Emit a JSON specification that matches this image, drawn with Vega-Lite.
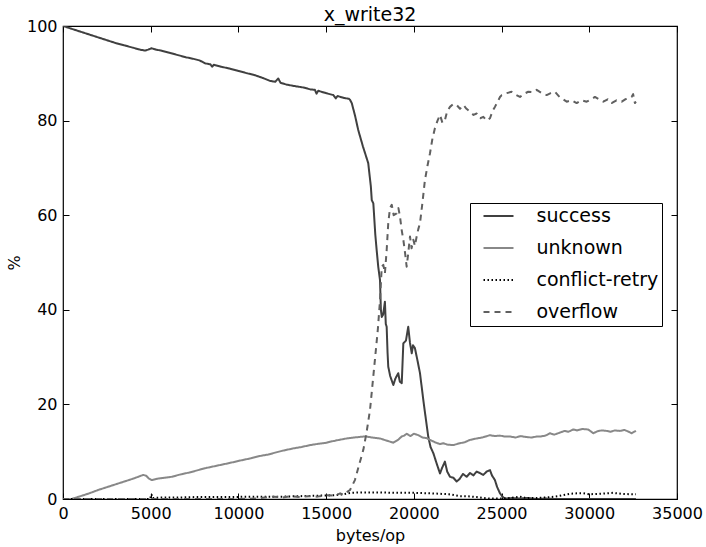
{
  "$schema": "https://vega.github.io/schema/vega-lite/v6.json",
  "width": 614,
  "height": 473,
  "autosize": {"type": "none"},
  "padding": {"left": 63, "top": 26, "right": 29, "bottom": 48},
  "background": "white",
  "title": {"text": "x_write32", "fontSize": 19, "font": "DejaVu Sans", "fontWeight": "normal", "color": "black", "offset": -7},
  "config": {
    "view": {"stroke": "black", "strokeWidth": 1.2},
    "font": "DejaVu Sans",
    "axis": {"domain": false, "grid": false, "tickColor": "black", "tickSize": -6, "tickWidth": 1, "labelFont": "DejaVu Sans", "labelFontSize": 16, "labelColor": "black", "titleFont": "DejaVu Sans", "titleFontSize": 16, "titleFontWeight": "normal", "titleColor": "black"}
  },
  "datasets": {
    "pts": [
      {"bytes": 0, "series": "success", "pct": 100},
      {"bytes": 500, "series": "success", "pct": 99.4},
      {"bytes": 1000, "series": "success", "pct": 98.8},
      {"bytes": 1500, "series": "success", "pct": 98.2},
      {"bytes": 2000, "series": "success", "pct": 97.6},
      {"bytes": 2500, "series": "success", "pct": 97.0},
      {"bytes": 3000, "series": "success", "pct": 96.4},
      {"bytes": 3500, "series": "success", "pct": 95.9},
      {"bytes": 4000, "series": "success", "pct": 95.4},
      {"bytes": 4400, "series": "success", "pct": 95.0},
      {"bytes": 4670, "series": "success", "pct": 94.8},
      {"bytes": 4850, "series": "success", "pct": 95.0},
      {"bytes": 5050, "series": "success", "pct": 95.3},
      {"bytes": 5300, "series": "success", "pct": 95.0},
      {"bytes": 5600, "series": "success", "pct": 94.8},
      {"bytes": 6000, "series": "success", "pct": 94.4},
      {"bytes": 6500, "series": "success", "pct": 93.9},
      {"bytes": 7000, "series": "success", "pct": 93.4},
      {"bytes": 7500, "series": "success", "pct": 93.0},
      {"bytes": 7800, "series": "success", "pct": 92.7},
      {"bytes": 8100, "series": "success", "pct": 92.1},
      {"bytes": 8400, "series": "success", "pct": 91.9},
      {"bytes": 8500, "series": "success", "pct": 91.4},
      {"bytes": 8600, "series": "success", "pct": 91.8},
      {"bytes": 9000, "series": "success", "pct": 91.4},
      {"bytes": 9500, "series": "success", "pct": 91.0},
      {"bytes": 10000, "series": "success", "pct": 90.5},
      {"bytes": 10500, "series": "success", "pct": 90.0},
      {"bytes": 10940, "series": "success", "pct": 89.6},
      {"bytes": 11400, "series": "success", "pct": 89.0},
      {"bytes": 11800, "series": "success", "pct": 88.4},
      {"bytes": 12100, "series": "success", "pct": 88.2},
      {"bytes": 12270, "series": "success", "pct": 88.9},
      {"bytes": 12400, "series": "success", "pct": 88.0},
      {"bytes": 12750, "series": "success", "pct": 87.6},
      {"bytes": 13200, "series": "success", "pct": 87.3},
      {"bytes": 13700, "series": "success", "pct": 87.0},
      {"bytes": 14100, "series": "success", "pct": 86.6},
      {"bytes": 14360, "series": "success", "pct": 86.5},
      {"bytes": 14450, "series": "success", "pct": 85.7},
      {"bytes": 14550, "series": "success", "pct": 86.3},
      {"bytes": 15000, "series": "success", "pct": 85.8},
      {"bytes": 15410, "series": "success", "pct": 85.4},
      {"bytes": 15550, "series": "success", "pct": 84.7},
      {"bytes": 15650, "series": "success", "pct": 85.2},
      {"bytes": 16000, "series": "success", "pct": 84.8},
      {"bytes": 16300, "series": "success", "pct": 84.6},
      {"bytes": 16360, "series": "success", "pct": 84.4},
      {"bytes": 16460, "series": "success", "pct": 83.7},
      {"bytes": 16650, "series": "success", "pct": 81.0},
      {"bytes": 16830, "series": "success", "pct": 78.0},
      {"bytes": 17100, "series": "success", "pct": 74.5},
      {"bytes": 17400, "series": "success", "pct": 71.0},
      {"bytes": 17550, "series": "success", "pct": 66.0},
      {"bytes": 17600, "series": "success", "pct": 63.2},
      {"bytes": 17690, "series": "success", "pct": 62.5},
      {"bytes": 17800, "series": "success", "pct": 56.0},
      {"bytes": 17880, "series": "success", "pct": 52.6},
      {"bytes": 17970, "series": "success", "pct": 49.1},
      {"bytes": 18070, "series": "success", "pct": 46.3},
      {"bytes": 18120, "series": "success", "pct": 40.0},
      {"bytes": 18170, "series": "success", "pct": 38.5},
      {"bytes": 18250, "series": "success", "pct": 39.0},
      {"bytes": 18350, "series": "success", "pct": 41.7},
      {"bytes": 18400, "series": "success", "pct": 37.0},
      {"bytes": 18450, "series": "success", "pct": 36.4},
      {"bytes": 18500, "series": "success", "pct": 31.0},
      {"bytes": 18540, "series": "success", "pct": 28.0},
      {"bytes": 18650, "series": "success", "pct": 26.0},
      {"bytes": 18830, "series": "success", "pct": 24.1},
      {"bytes": 18950, "series": "success", "pct": 25.5},
      {"bytes": 19110, "series": "success", "pct": 26.6},
      {"bytes": 19200, "series": "success", "pct": 24.8},
      {"bytes": 19310, "series": "success", "pct": 24.5},
      {"bytes": 19400, "series": "success", "pct": 32.9},
      {"bytes": 19550, "series": "success", "pct": 33.5},
      {"bytes": 19680, "series": "success", "pct": 36.4},
      {"bytes": 19780, "series": "success", "pct": 33.0},
      {"bytes": 19880, "series": "success", "pct": 30.8},
      {"bytes": 19950, "series": "success", "pct": 32.5},
      {"bytes": 20060, "series": "success", "pct": 31.9},
      {"bytes": 20200, "series": "success", "pct": 29.4},
      {"bytes": 20350, "series": "success", "pct": 26.6},
      {"bytes": 20540, "series": "success", "pct": 20.9},
      {"bytes": 20680, "series": "success", "pct": 17.0},
      {"bytes": 20820, "series": "success", "pct": 13.2},
      {"bytes": 20950, "series": "success", "pct": 11.0},
      {"bytes": 21110, "series": "success", "pct": 9.7},
      {"bytes": 21300, "series": "success", "pct": 7.5},
      {"bytes": 21490, "series": "success", "pct": 5.4},
      {"bytes": 21600, "series": "success", "pct": 6.5},
      {"bytes": 21770, "series": "success", "pct": 7.9},
      {"bytes": 21900, "series": "success", "pct": 5.8},
      {"bytes": 22060, "series": "success", "pct": 4.7},
      {"bytes": 22250, "series": "success", "pct": 4.5},
      {"bytes": 22440, "series": "success", "pct": 3.7},
      {"bytes": 22600, "series": "success", "pct": 4.2},
      {"bytes": 22800, "series": "success", "pct": 5.3},
      {"bytes": 23010, "series": "success", "pct": 4.7},
      {"bytes": 23200, "series": "success", "pct": 5.5},
      {"bytes": 23400, "series": "success", "pct": 5.0},
      {"bytes": 23580, "series": "success", "pct": 5.8},
      {"bytes": 23750, "series": "success", "pct": 5.5},
      {"bytes": 23960, "series": "success", "pct": 5.1},
      {"bytes": 24150, "series": "success", "pct": 5.8},
      {"bytes": 24340, "series": "success", "pct": 6.1},
      {"bytes": 24450, "series": "success", "pct": 5.0},
      {"bytes": 24620, "series": "success", "pct": 4.0},
      {"bytes": 24750, "series": "success", "pct": 2.5},
      {"bytes": 24910, "series": "success", "pct": 1.2},
      {"bytes": 25050, "series": "success", "pct": 0.5},
      {"bytes": 25190, "series": "success", "pct": 0.1},
      {"bytes": 25600, "series": "success", "pct": 0.2},
      {"bytes": 26000, "series": "success", "pct": 0.1},
      {"bytes": 26500, "series": "success", "pct": 0.2},
      {"bytes": 27000, "series": "success", "pct": 0.0},
      {"bytes": 27500, "series": "success", "pct": 0.1},
      {"bytes": 28000, "series": "success", "pct": 0.0},
      {"bytes": 29000, "series": "success", "pct": 0.0},
      {"bytes": 30000, "series": "success", "pct": 0.0},
      {"bytes": 31000, "series": "success", "pct": 0.0},
      {"bytes": 32000, "series": "success", "pct": 0.0},
      {"bytes": 32660, "series": "success", "pct": 0.0},

      {"bytes": 0, "series": "unknown", "pct": 0},
      {"bytes": 490, "series": "unknown", "pct": 0},
      {"bytes": 1000, "series": "unknown", "pct": 0.6},
      {"bytes": 1500, "series": "unknown", "pct": 1.2},
      {"bytes": 2000, "series": "unknown", "pct": 1.9},
      {"bytes": 2500, "series": "unknown", "pct": 2.5},
      {"bytes": 3000, "series": "unknown", "pct": 3.1},
      {"bytes": 3500, "series": "unknown", "pct": 3.7},
      {"bytes": 4000, "series": "unknown", "pct": 4.3},
      {"bytes": 4580, "series": "unknown", "pct": 5.1},
      {"bytes": 4750, "series": "unknown", "pct": 4.9},
      {"bytes": 4900, "series": "unknown", "pct": 4.3},
      {"bytes": 5050, "series": "unknown", "pct": 4.0},
      {"bytes": 5400, "series": "unknown", "pct": 4.3},
      {"bytes": 5800, "series": "unknown", "pct": 4.5},
      {"bytes": 6200, "series": "unknown", "pct": 4.7},
      {"bytes": 6700, "series": "unknown", "pct": 5.2},
      {"bytes": 7200, "series": "unknown", "pct": 5.6},
      {"bytes": 7600, "series": "unknown", "pct": 6.0},
      {"bytes": 8090, "series": "unknown", "pct": 6.5},
      {"bytes": 8600, "series": "unknown", "pct": 6.9},
      {"bytes": 9100, "series": "unknown", "pct": 7.3},
      {"bytes": 9600, "series": "unknown", "pct": 7.7},
      {"bytes": 10190, "series": "unknown", "pct": 8.2},
      {"bytes": 10700, "series": "unknown", "pct": 8.6},
      {"bytes": 11230, "series": "unknown", "pct": 9.1},
      {"bytes": 11700, "series": "unknown", "pct": 9.4},
      {"bytes": 11990, "series": "unknown", "pct": 9.7},
      {"bytes": 12500, "series": "unknown", "pct": 10.2},
      {"bytes": 13130, "series": "unknown", "pct": 10.7},
      {"bytes": 13600, "series": "unknown", "pct": 11.0},
      {"bytes": 14100, "series": "unknown", "pct": 11.4},
      {"bytes": 14600, "series": "unknown", "pct": 11.7},
      {"bytes": 15030, "series": "unknown", "pct": 11.9},
      {"bytes": 15220, "series": "unknown", "pct": 12.1},
      {"bytes": 15600, "series": "unknown", "pct": 12.4},
      {"bytes": 16170, "series": "unknown", "pct": 12.8},
      {"bytes": 16600, "series": "unknown", "pct": 13.0},
      {"bytes": 17120, "series": "unknown", "pct": 13.2},
      {"bytes": 17310, "series": "unknown", "pct": 13.2},
      {"bytes": 17600, "series": "unknown", "pct": 13.0},
      {"bytes": 18070, "series": "unknown", "pct": 12.8},
      {"bytes": 18400, "series": "unknown", "pct": 12.4},
      {"bytes": 18830, "series": "unknown", "pct": 11.9},
      {"bytes": 19100, "series": "unknown", "pct": 12.5},
      {"bytes": 19300, "series": "unknown", "pct": 13.2},
      {"bytes": 19450, "series": "unknown", "pct": 13.4},
      {"bytes": 19590, "series": "unknown", "pct": 13.8},
      {"bytes": 19800, "series": "unknown", "pct": 13.3},
      {"bytes": 20000, "series": "unknown", "pct": 13.8},
      {"bytes": 20250, "series": "unknown", "pct": 13.5},
      {"bytes": 20500, "series": "unknown", "pct": 13.0},
      {"bytes": 20700, "series": "unknown", "pct": 12.9},
      {"bytes": 20920, "series": "unknown", "pct": 12.5},
      {"bytes": 21200, "series": "unknown", "pct": 12.0},
      {"bytes": 21490, "series": "unknown", "pct": 11.6},
      {"bytes": 21680, "series": "unknown", "pct": 11.8},
      {"bytes": 21900, "series": "unknown", "pct": 11.5},
      {"bytes": 22250, "series": "unknown", "pct": 11.4},
      {"bytes": 22630, "series": "unknown", "pct": 11.8},
      {"bytes": 22900, "series": "unknown", "pct": 12.0},
      {"bytes": 23200, "series": "unknown", "pct": 12.5},
      {"bytes": 23580, "series": "unknown", "pct": 12.8},
      {"bytes": 23900, "series": "unknown", "pct": 13.0},
      {"bytes": 24340, "series": "unknown", "pct": 13.5},
      {"bytes": 24600, "series": "unknown", "pct": 13.3},
      {"bytes": 24900, "series": "unknown", "pct": 13.4},
      {"bytes": 25200, "series": "unknown", "pct": 13.2},
      {"bytes": 25480, "series": "unknown", "pct": 13.2},
      {"bytes": 25800, "series": "unknown", "pct": 13.0},
      {"bytes": 26100, "series": "unknown", "pct": 13.3},
      {"bytes": 26400, "series": "unknown", "pct": 13.1},
      {"bytes": 26700, "series": "unknown", "pct": 13.0},
      {"bytes": 27000, "series": "unknown", "pct": 13.2},
      {"bytes": 27190, "series": "unknown", "pct": 13.2},
      {"bytes": 27500, "series": "unknown", "pct": 13.4},
      {"bytes": 27760, "series": "unknown", "pct": 13.9},
      {"bytes": 28000, "series": "unknown", "pct": 13.6},
      {"bytes": 28300, "series": "unknown", "pct": 14.0},
      {"bytes": 28600, "series": "unknown", "pct": 14.4},
      {"bytes": 28800, "series": "unknown", "pct": 14.2},
      {"bytes": 29090, "series": "unknown", "pct": 14.7},
      {"bytes": 29300, "series": "unknown", "pct": 14.5},
      {"bytes": 29600, "series": "unknown", "pct": 14.8},
      {"bytes": 29940, "series": "unknown", "pct": 14.7},
      {"bytes": 30230, "series": "unknown", "pct": 13.9},
      {"bytes": 30450, "series": "unknown", "pct": 14.3},
      {"bytes": 30700, "series": "unknown", "pct": 14.5},
      {"bytes": 30990, "series": "unknown", "pct": 14.4},
      {"bytes": 31200, "series": "unknown", "pct": 14.2},
      {"bytes": 31450, "series": "unknown", "pct": 14.5},
      {"bytes": 31750, "series": "unknown", "pct": 14.4},
      {"bytes": 32000, "series": "unknown", "pct": 14.6},
      {"bytes": 32200, "series": "unknown", "pct": 14.3},
      {"bytes": 32410, "series": "unknown", "pct": 13.9},
      {"bytes": 32660, "series": "unknown", "pct": 14.4},

      {"bytes": 0, "series": "conflict-retry", "pct": 0},
      {"bytes": 2000, "series": "conflict-retry", "pct": 0},
      {"bytes": 4000, "series": "conflict-retry", "pct": 0},
      {"bytes": 4950, "series": "conflict-retry", "pct": 0},
      {"bytes": 5050, "series": "conflict-retry", "pct": 1.0},
      {"bytes": 5100, "series": "conflict-retry", "pct": 0.2},
      {"bytes": 5500, "series": "conflict-retry", "pct": 0.3},
      {"bytes": 6500, "series": "conflict-retry", "pct": 0.3},
      {"bytes": 7500, "series": "conflict-retry", "pct": 0.4},
      {"bytes": 8500, "series": "conflict-retry", "pct": 0.4},
      {"bytes": 9500, "series": "conflict-retry", "pct": 0.4},
      {"bytes": 10500, "series": "conflict-retry", "pct": 0.5},
      {"bytes": 11500, "series": "conflict-retry", "pct": 0.5},
      {"bytes": 12500, "series": "conflict-retry", "pct": 0.5},
      {"bytes": 13500, "series": "conflict-retry", "pct": 0.6},
      {"bytes": 14500, "series": "conflict-retry", "pct": 0.7},
      {"bytes": 15500, "series": "conflict-retry", "pct": 0.8},
      {"bytes": 16000, "series": "conflict-retry", "pct": 1.0},
      {"bytes": 16400, "series": "conflict-retry", "pct": 1.3},
      {"bytes": 17000, "series": "conflict-retry", "pct": 1.4},
      {"bytes": 18000, "series": "conflict-retry", "pct": 1.4},
      {"bytes": 19000, "series": "conflict-retry", "pct": 1.3},
      {"bytes": 20000, "series": "conflict-retry", "pct": 1.3},
      {"bytes": 21000, "series": "conflict-retry", "pct": 1.2},
      {"bytes": 22000, "series": "conflict-retry", "pct": 1.0},
      {"bytes": 22630, "series": "conflict-retry", "pct": 0.6},
      {"bytes": 23000, "series": "conflict-retry", "pct": 0.6},
      {"bytes": 23580, "series": "conflict-retry", "pct": 0.4},
      {"bytes": 24000, "series": "conflict-retry", "pct": 0.2},
      {"bytes": 24340, "series": "conflict-retry", "pct": 0.1},
      {"bytes": 25000, "series": "conflict-retry", "pct": 0.1},
      {"bytes": 25500, "series": "conflict-retry", "pct": 0.2},
      {"bytes": 26050, "series": "conflict-retry", "pct": 0.5},
      {"bytes": 26400, "series": "conflict-retry", "pct": 0.2},
      {"bytes": 27000, "series": "conflict-retry", "pct": 0.2},
      {"bytes": 27760, "series": "conflict-retry", "pct": 0.4},
      {"bytes": 28200, "series": "conflict-retry", "pct": 0.6},
      {"bytes": 28900, "series": "conflict-retry", "pct": 1.1},
      {"bytes": 29300, "series": "conflict-retry", "pct": 1.2},
      {"bytes": 29660, "series": "conflict-retry", "pct": 1.2},
      {"bytes": 30000, "series": "conflict-retry", "pct": 1.0},
      {"bytes": 30600, "series": "conflict-retry", "pct": 1.1},
      {"bytes": 31000, "series": "conflict-retry", "pct": 1.2},
      {"bytes": 31350, "series": "conflict-retry", "pct": 1.3},
      {"bytes": 31800, "series": "conflict-retry", "pct": 1.1},
      {"bytes": 32410, "series": "conflict-retry", "pct": 1.0},
      {"bytes": 32660, "series": "conflict-retry", "pct": 1.0},

      {"bytes": 0, "series": "overflow", "pct": 0},
      {"bytes": 5000, "series": "overflow", "pct": 0},
      {"bytes": 10000, "series": "overflow", "pct": 0},
      {"bytes": 11000, "series": "overflow", "pct": 0.1},
      {"bytes": 11500, "series": "overflow", "pct": 0.3},
      {"bytes": 12000, "series": "overflow", "pct": 0.5},
      {"bytes": 12500, "series": "overflow", "pct": 0.3},
      {"bytes": 13000, "series": "overflow", "pct": 0.6},
      {"bytes": 13500, "series": "overflow", "pct": 0.4},
      {"bytes": 14000, "series": "overflow", "pct": 0.6},
      {"bytes": 14500, "series": "overflow", "pct": 0.5},
      {"bytes": 15000, "series": "overflow", "pct": 0.8},
      {"bytes": 15500, "series": "overflow", "pct": 0.7},
      {"bytes": 15800, "series": "overflow", "pct": 1.2},
      {"bytes": 16000, "series": "overflow", "pct": 0.9},
      {"bytes": 16200, "series": "overflow", "pct": 1.5},
      {"bytes": 16360, "series": "overflow", "pct": 1.9},
      {"bytes": 16640, "series": "overflow", "pct": 4.0},
      {"bytes": 16900, "series": "overflow", "pct": 7.5},
      {"bytes": 17120, "series": "overflow", "pct": 10.4},
      {"bytes": 17300, "series": "overflow", "pct": 14.0},
      {"bytes": 17500, "series": "overflow", "pct": 18.8},
      {"bytes": 17780, "series": "overflow", "pct": 29.4},
      {"bytes": 17950, "series": "overflow", "pct": 36.0},
      {"bytes": 18070, "series": "overflow", "pct": 42.0},
      {"bytes": 18170, "series": "overflow", "pct": 49.1},
      {"bytes": 18260, "series": "overflow", "pct": 49.5},
      {"bytes": 18350, "series": "overflow", "pct": 47.7},
      {"bytes": 18450, "series": "overflow", "pct": 52.6},
      {"bytes": 18540, "series": "overflow", "pct": 58.3},
      {"bytes": 18640, "series": "overflow", "pct": 61.5},
      {"bytes": 18740, "series": "overflow", "pct": 62.2},
      {"bytes": 18850, "series": "overflow", "pct": 60.0},
      {"bytes": 19020, "series": "overflow", "pct": 60.4},
      {"bytes": 19120, "series": "overflow", "pct": 61.5},
      {"bytes": 19210, "series": "overflow", "pct": 59.7},
      {"bytes": 19300, "series": "overflow", "pct": 57.0},
      {"bytes": 19400, "series": "overflow", "pct": 54.8},
      {"bytes": 19500, "series": "overflow", "pct": 52.0},
      {"bytes": 19590, "series": "overflow", "pct": 49.1},
      {"bytes": 19680, "series": "overflow", "pct": 52.0},
      {"bytes": 19780, "series": "overflow", "pct": 55.5},
      {"bytes": 19870, "series": "overflow", "pct": 53.0},
      {"bytes": 19970, "series": "overflow", "pct": 54.8},
      {"bytes": 20060, "series": "overflow", "pct": 53.5},
      {"bytes": 20160, "series": "overflow", "pct": 55.5},
      {"bytes": 20250, "series": "overflow", "pct": 57.0},
      {"bytes": 20350, "series": "overflow", "pct": 58.3},
      {"bytes": 20500, "series": "overflow", "pct": 63.0},
      {"bytes": 20630, "series": "overflow", "pct": 67.4},
      {"bytes": 20780, "series": "overflow", "pct": 70.5},
      {"bytes": 20920, "series": "overflow", "pct": 73.1},
      {"bytes": 21050, "series": "overflow", "pct": 76.0},
      {"bytes": 21200, "series": "overflow", "pct": 78.4},
      {"bytes": 21350, "series": "overflow", "pct": 80.0},
      {"bytes": 21490, "series": "overflow", "pct": 81.2},
      {"bytes": 21630, "series": "overflow", "pct": 79.5},
      {"bytes": 21770, "series": "overflow", "pct": 80.1},
      {"bytes": 21900, "series": "overflow", "pct": 82.0},
      {"bytes": 22060, "series": "overflow", "pct": 82.9},
      {"bytes": 22250, "series": "overflow", "pct": 83.5},
      {"bytes": 22440, "series": "overflow", "pct": 83.3},
      {"bytes": 22630, "series": "overflow", "pct": 82.5},
      {"bytes": 22820, "series": "overflow", "pct": 83.3},
      {"bytes": 23000, "series": "overflow", "pct": 82.5},
      {"bytes": 23200, "series": "overflow", "pct": 81.9},
      {"bytes": 23400, "series": "overflow", "pct": 81.2},
      {"bytes": 23580, "series": "overflow", "pct": 81.5},
      {"bytes": 23780, "series": "overflow", "pct": 80.5},
      {"bytes": 23960, "series": "overflow", "pct": 80.8},
      {"bytes": 24150, "series": "overflow", "pct": 80.0},
      {"bytes": 24340, "series": "overflow", "pct": 80.5},
      {"bytes": 24480, "series": "overflow", "pct": 82.0},
      {"bytes": 24620, "series": "overflow", "pct": 82.9},
      {"bytes": 24780, "series": "overflow", "pct": 84.0},
      {"bytes": 24910, "series": "overflow", "pct": 85.0},
      {"bytes": 25010, "series": "overflow", "pct": 85.4},
      {"bytes": 25300, "series": "overflow", "pct": 85.8},
      {"bytes": 25570, "series": "overflow", "pct": 86.1},
      {"bytes": 25800, "series": "overflow", "pct": 85.5},
      {"bytes": 26050, "series": "overflow", "pct": 85.0},
      {"bytes": 26300, "series": "overflow", "pct": 85.7},
      {"bytes": 26520, "series": "overflow", "pct": 86.1},
      {"bytes": 26750, "series": "overflow", "pct": 86.0},
      {"bytes": 27000, "series": "overflow", "pct": 86.5},
      {"bytes": 27300, "series": "overflow", "pct": 85.8},
      {"bytes": 27570, "series": "overflow", "pct": 85.4},
      {"bytes": 27800, "series": "overflow", "pct": 85.8},
      {"bytes": 28040, "series": "overflow", "pct": 86.1},
      {"bytes": 28300, "series": "overflow", "pct": 85.0},
      {"bytes": 28500, "series": "overflow", "pct": 84.5},
      {"bytes": 28710, "series": "overflow", "pct": 84.0},
      {"bytes": 29000, "series": "overflow", "pct": 84.3},
      {"bytes": 29280, "series": "overflow", "pct": 83.7},
      {"bytes": 29550, "series": "overflow", "pct": 84.3},
      {"bytes": 29850, "series": "overflow", "pct": 84.0},
      {"bytes": 30100, "series": "overflow", "pct": 84.5},
      {"bytes": 30320, "series": "overflow", "pct": 85.0},
      {"bytes": 30550, "series": "overflow", "pct": 84.5},
      {"bytes": 30800, "series": "overflow", "pct": 84.0},
      {"bytes": 31050, "series": "overflow", "pct": 84.5},
      {"bytes": 31270, "series": "overflow", "pct": 83.7},
      {"bytes": 31550, "series": "overflow", "pct": 84.3},
      {"bytes": 31850, "series": "overflow", "pct": 84.0},
      {"bytes": 32050, "series": "overflow", "pct": 84.5},
      {"bytes": 32220, "series": "overflow", "pct": 84.7},
      {"bytes": 32410, "series": "overflow", "pct": 85.0},
      {"bytes": 32500, "series": "overflow", "pct": 85.6},
      {"bytes": 32600, "series": "overflow", "pct": 83.7},
      {"bytes": 32660, "series": "overflow", "pct": 84.0}
    ]
  },
  "data": {"name": "pts"},
  "layer": [
    {
      "mark": {"type": "line", "strokeCap": "butt", "strokeJoin": "round", "clip": true},
      "encoding": {
        "x": {"field": "bytes", "type": "quantitative", "scale": {"domain": [0, 35000], "nice": false, "zero": false},
              "axis": {"orient": "bottom", "title": "bytes/op", "values": [0, 5000, 10000, 15000, 20000, 25000, 30000, 35000], "format": "d", "labelPadding": 12, "titlePadding": 6, "labelFlush": false}},
        "y": {"field": "pct", "type": "quantitative", "scale": {"domain": [0, 100], "nice": false},
              "axis": {"orient": "left", "title": "%", "values": [0, 20, 40, 60, 80, 100], "labelPadding": 12, "titlePadding": 4, "labelFlush": false}},
        "color": {"field": "series", "type": "nominal",
                  "scale": {"domain": ["success", "unknown", "conflict-retry", "overflow"], "range": ["#404040", "#888888", "#000000", "#606060"]},
                  "legend": {"title": null, "orient": "none", "legendX": 407, "legendY": 177, "symbolType": "stroke", "symbolSize": 900, "clipHeight": 19, "symbolOffset": 9, "labelFontSize": 19, "labelFont": "DejaVu Sans", "labelColor": "black", "labelOffset": 22, "rowPadding": 12, "padding": 3.5, "strokeColor": "black", "fillColor": "white", "cornerRadius": 0}},
        "strokeDash": {"field": "series", "type": "nominal",
                       "scale": {"domain": ["success", "unknown", "conflict-retry", "overflow"], "range": [[1, 0], [1, 0], [1.5, 2.5], [6, 5]]}, "legend": null},
        "strokeWidth": {"field": "series", "type": "nominal",
                        "scale": {"domain": ["success", "unknown", "conflict-retry", "overflow"], "range": [2, 2, 1.5, 2]}, "legend": null},
        "order": {"field": "bytes", "type": "quantitative"}
      }
    },
    {
      "mark": {"type": "line", "opacity": 0},
      "encoding": {
        "x": {"field": "bytes", "type": "quantitative", "axis": {"orient": "top", "title": null, "labels": false, "values": [0, 5000, 10000, 15000, 20000, 25000, 30000, 35000]}},
        "y": {"field": "pct", "type": "quantitative", "axis": {"orient": "right", "title": null, "labels": false, "values": [0, 20, 40, 60, 80, 100]}},
        "detail": {"field": "series"}
      }
    }
  ],
  "resolve": {"axis": {"x": "independent", "y": "independent"}}
}
